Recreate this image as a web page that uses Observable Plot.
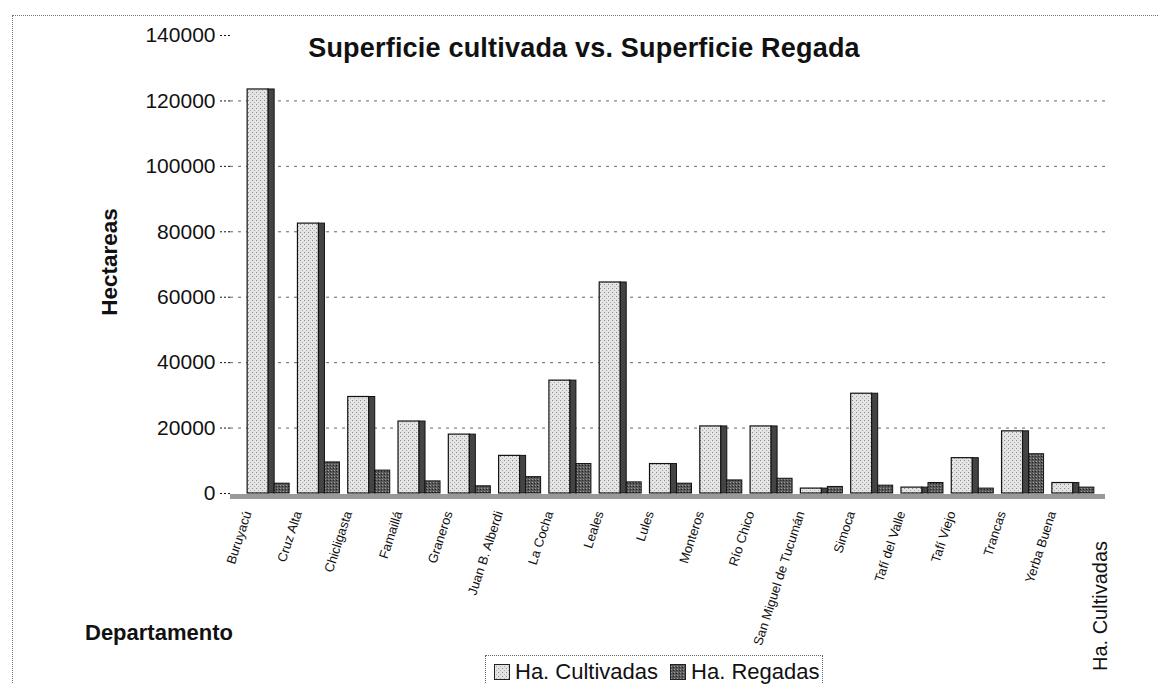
<!DOCTYPE html>
<html>
<head>
<meta charset="utf-8">
<script src="https://cdn.jsdelivr.net/npm/d3@7"></script>
<script src="https://cdn.jsdelivr.net/npm/@observablehq/plot@0.6"></script>
<style>
  body { margin: 0; background: #fff; font-family: "Liberation Sans", Arial, sans-serif; }
  #wrap { position: relative; width: 1159px; height: 684px; overflow: hidden; background: #fff; }
  #border { position: absolute; left: 12px; top: 15px; width: 1170px; height: 700px; border: 1px dotted #777; box-sizing: border-box; }
  #chart { position: absolute; left: 0; top: 0; }
  .lbl { position: absolute; color: #111; white-space: nowrap; font-weight: bold; }
  #title { left: 584px; top: 48px; transform: translate(-50%, -50%); font-size: 27px; letter-spacing: 0.2px; }
  #ylab { left: 110px; top: 262px; transform: translate(-50%, -50%) rotate(-90deg); font-size: 22.5px; }
  #xlab { left: 85px; top: 633px; transform: translateY(-50%); font-size: 22px; }
  #depth { left: 1100px; top: 606px; transform: translate(-50%, -50%) rotate(-90deg); font-size: 20px; font-weight: normal; }
  #legend { position: absolute; left: 485px; top: 655px; width: 338px; height: 50px; border: 1px dotted #666; box-sizing: border-box;
            font-size: 22px; color: #111; padding: 3px 0 0 8px; white-space: nowrap; }
  #legend svg { vertical-align: -1px; margin-right: 5px; }
</style>
</head>
<body>
<div id="wrap">
  <div id="border"></div>
  <div id="chart"></div>
  <div class="lbl" id="title">Superficie cultivada vs. Superficie Regada</div>
  <div class="lbl" id="ylab">Hectareas</div>
  <div class="lbl" id="xlab">Departamento</div>
  <div class="lbl" id="depth">Ha. Cultivadas</div>
  <div id="legend"></div>
</div>
<script>
// ---- data ----
const departamentos = ["Buruyacú", "Cruz Alta", "Chicligasta", "Famaillá", "Graneros", "Juan B. Alberdi",
  "La Cocha", "Leales", "Lules", "Monteros", "Río Chico", "San Miguel de Tucumán", "Simoca",
  "Tafí del Valle", "Tafí Viejo", "Trancas", "Yerba Buena"];
const haCultivadas = [123500, 82500, 29500, 22000, 18000, 11500, 34500, 64500, 9000, 20500, 20500, 1500, 30500, 1800, 10800, 19000, 3200];
const haRegadas    = [3000, 9500, 7000, 3700, 2200, 5000, 9000, 3400, 3000, 4000, 4500, 2000, 2400, 3200, 1500, 12000, 1800];
const seriesNames = ["Ha. Cultivadas", "Ha. Regadas"];
const yTicks = [0, 20000, 40000, 60000, 80000, 100000, 120000, 140000];
const gridTicks = [20000, 40000, 60000, 80000, 100000, 120000];

const cult = departamentos.map((d, i) => ({dep: d, value: haCultivadas[i]}));
const reg  = departamentos.map((d, i) => ({dep: d, value: haRegadas[i]}));

// patterns (textures only)
function defs() {
  const d = d3.create("svg:defs");
  const p1 = d.append("pattern").attr("id", "stipLight").attr("width", 4).attr("height", 4).attr("patternUnits", "userSpaceOnUse");
  p1.append("rect").attr("width", 4).attr("height", 4).attr("fill", "#e4e4e4");
  p1.append("rect").attr("x", 0).attr("y", 0).attr("width", 1).attr("height", 1).attr("fill", "#888");
  p1.append("rect").attr("x", 2).attr("y", 2).attr("width", 1).attr("height", 1).attr("fill", "#aaa");
  const p2 = d.append("pattern").attr("id", "stipDark").attr("width", 3).attr("height", 3).attr("patternUnits", "userSpaceOnUse");
  p2.append("rect").attr("width", 3).attr("height", 3).attr("fill", "#5a5a5a");
  p2.append("rect").attr("x", 0).attr("y", 0).attr("width", 1).attr("height", 1).attr("fill", "#222");
  p2.append("rect").attr("x", 1).attr("y", 2).attr("width", 1).attr("height", 1).attr("fill", "#999");
  return d.node();
}

const chart = Plot.plot({
  width: 1159,
  height: 684,
  marginLeft: 230,
  marginRight: 54,
  marginTop: 35,
  marginBottom: 191,
  style: {fontFamily: "'Liberation Sans', Arial, sans-serif", color: "#111", background: "transparent"},
  x: {domain: departamentos, range: [222, 1077], padding: 0, round: false, label: null},
  y: {domain: [0, 140000], label: null, line: true},
  marks: [
    defs,
    Plot.ruleY(gridTicks, {stroke: "#666", strokeDasharray: "3,5", strokeWidth: 1}),
    Plot.ruleY([0], {stroke: "#999", strokeWidth: 5, dy: 3}),
    // light bar front face
    Plot.barY(cult, {x: "dep", y: "value", fill: "url(#stipLight)", stroke: "#111", strokeWidth: 1.2,
      insetLeft: 25.15, insetRight: 4.15}),
    // light bar side face
    Plot.barY(cult, {x: "dep", y: "value", fill: "#444", stroke: "#111", strokeWidth: 1,
      insetLeft: 46.15, insetRight: -1.85}),
    // dark bar
    Plot.barY(reg, {x: "dep", y: "value", fill: "url(#stipDark)", stroke: "#111", strokeWidth: 1,
      insetLeft: 52.15, insetRight: -16.85}),
    Plot.axisY({ticks: yTicks, tickFormat: d3.format("d"), tickSize: 10, tickPadding: 5, fontSize: 21, label: null,
      strokeDasharray: "2,2"}),
    Plot.axisX({tickRotate: -72, tickSize: 0, tickPadding: 18, fontSize: 13, label: null})
  ]
});
document.getElementById("chart").appendChild(chart);

// legend
const legend = document.getElementById("legend");
const fills = ["url(#stipLight)", "url(#stipDark)"];
seriesNames.forEach((name, i) => {
  const span = document.createElement("span");
  span.style.marginRight = "12px";
  span.innerHTML = `<svg width="16" height="16"><rect x="0.5" y="0.5" width="15" height="15" fill="${fills[i]}" stroke="#222"/></svg>${name}`;
  legend.appendChild(span);
});
</script>
</body>
</html>
